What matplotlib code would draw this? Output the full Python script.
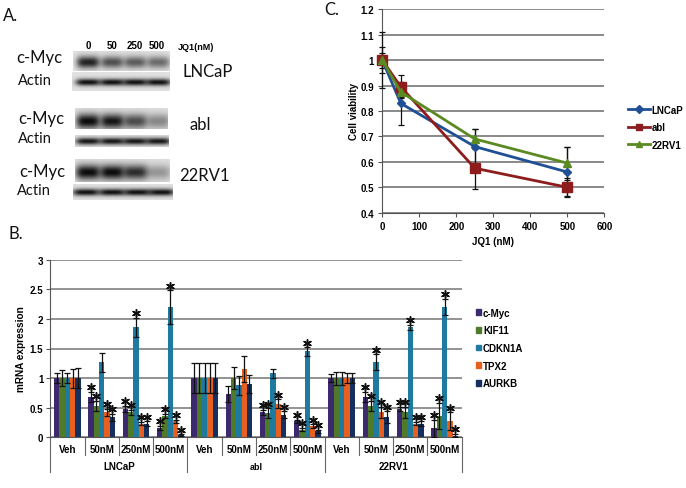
import matplotlib

matplotlib.use('Agg')

import matplotlib.pyplot as plt
import numpy as np
from matplotlib.lines import Line2D
from matplotlib.patches import Patch

W, H = 686, 489

# panel C
doses = [0, 50, 250, 500]
lncap_via = [1, 0.83, 0.66, 0.56]
lncap_err = [0.11, 0.085, 0.07, 0.1]
abl_via = [1, 0.895, 0.575, 0.5]
abl_err = [0.05, 0.045, 0.083, 0.035]
rv1_via = [1, 0.875, 0.69, 0.595]
rv1_err = [0.03, 0.02, 0.04, 0.065]

# panel B
genes = ['c-Myc', 'KIF11', 'CDKN1A', 'TPX2', 'AURKB']
gene_colors = ['#3d2a6e', '#4f7a2a', '#1f7a9f', '#e8601f', '#15305f']
conditions = ['Veh', '50nM', '250nM', '500nM'] * 3
cell_lines = ['LNCaP', 'abl', '22RV1']
cmyc = [1, 0.68, 0.48, 0.16, 1, 0.73, 0.42, 0.27, 1, 0.68, 0.48, 0.15]
kif11 = [1, 0.53, 0.42, 0.36, 1, 1.0, 0.41, 0.13, 1, 0.53, 0.42, 0.36]
cdkn1a = [1, 1.27, 1.86, 2.2, 1, 0.88, 1.08, 1.45, 1, 1.27, 1.86, 2.2]
tpx2 = [1, 0.42, 0.23, 0.27, 1, 1.15, 0.57, 0.19, 1, 0.42, 0.23, 0.27]
aurkb = [1, 0.34, 0.23, 0.04, 1, 0.9, 0.38, 0.1, 1, 0.34, 0.23, 0.03]
cmyc_err = [0.08, 0.09, 0.05, 0.03, 0.25, 0.14, 0.04, 0.02, 0.07, 0.09, 0.04, 0.15]
kif11_err = [0.13, 0.08, 0.04, 0.04, 0.25, 0.18, 0.08, 0.03, 0.11, 0.08, 0.09, 0.22]
cdkn1a_err = [0.09, 0.16, 0.16, 0.28, 0.25, 0.16, 0.08, 0.07, 0.11, 0.13, 0.04, 0.14]
tpx2_err = [0.16, 0.06, 0.03, 0.03, 0.25, 0.22, 0.07, 0.03, 0.08, 0.1, 0.03, 0.15]
aurkb_err = [0.17, 0.06, 0.04, 0.01, 0.25, 0.16, 0.06, 0.03, 0.08, 0.1, 0.04, 0.03]
# which bars carry a star, per condition
cmyc_star = [0, 1, 1, 1, 0, 0, 1, 1, 0, 1, 1, 1]
kif11_star = [0, 1, 1, 1, 0, 0, 1, 1, 0, 1, 1, 1]
cdkn1a_star = [0, 0, 1, 1, 0, 0, 0, 1, 0, 1, 1, 1]
tpx2_star = [0, 1, 1, 1, 0, 0, 1, 1, 0, 1, 1, 1]
aurkb_star = [0, 1, 1, 1, 0, 0, 1, 1, 0, 1, 1, 1]

# panel A, band darkness per lane
lane_labels = ['0', '50', '250', '500']
lncap_myc = [0.9, 0.68, 0.62, 0.55]
lncap_act = [0.98, 0.98, 0.98, 0.98]
abl_myc = [1.0, 0.95, 0.7, 0.42]
abl_act = [0.95, 0.95, 0.95, 0.95]
rv1_myc = [1.0, 1.0, 0.85, 0.35]
rv1_act = [0.98, 0.98, 0.98, 0.98]


def axes_rect(left, right, top, bottom):
    return [left / W, 1 - bottom / H, (right - left) / W, (bottom - top) / H]


def draw_blot(ax, x0, x1, y0, y1, bands, centers, yc, bw, bh, shade=0.88):
    xs = np.arange(x0, x1, 0.5)
    ys = np.arange(y0, y1, 0.5)
    xx, yy = np.meshgrid(xs, ys)
    img = np.full(xx.shape, shade)
    for c, b in zip(centers, bands):
        dark = b * np.exp(-((xx - c) / bw) ** 4) * np.exp(-((yy - yc) / bh) ** 2)
        img = img * (1 - 0.95 * dark)
    ax.imshow(img, cmap='gray', vmin=0, vmax=1, extent=[x0, x1, y1, y0],
              aspect='auto', interpolation='bilinear')


plt.rcParams['font.family'] = ['Liberation Sans', 'DejaVu Sans']
fig = plt.figure(figsize=(W / 100, H / 100), dpi=100)

# ---- panel A and free text, in pixel coords
bg = fig.add_axes([0, 0, 1, 1])
bg.axis('off')

centers = [88, 112, 135, 158]
draw_blot(bg, 73, 170, 52, 72, lncap_myc, centers, 63, 11.5, 6)
draw_blot(bg, 72, 170, 73, 92, lncap_act, centers, 83, 12.5, 3.5)
draw_blot(bg, 75, 168, 109, 130, abl_myc, centers, 122, 12, 7.5)
draw_blot(bg, 75, 169, 136, 148, abl_act, centers, 142, 12.5, 3.5)
draw_blot(bg, 75, 170, 160, 183, rv1_myc, centers, 173, 12.5, 7.5)
draw_blot(bg, 73, 173, 185, 201, rv1_act, [86, 112, 137, 161], 193, 13.5, 3.5)
bg.set_xlim(0, W)
bg.set_ylim(H, 0)

for x, lab in zip([88, 112, 135, 157], lane_labels):
    bg.text(x, 46, lab, fontsize=7, fontweight='bold', ha='center', va='center')
bg.text(196, 47, 'JQ1(nM)', fontsize=6.5, fontweight='bold', ha='center', va='center')

big = {'family': ['Lato', 'DejaVu Sans'], 'va': 'center', 'color': '#111111'}
bg.text(3, 16, 'A.', fontsize=12, **big)
bg.text(9, 234, 'B.', fontsize=12, **big)
bg.text(324, 10, 'C.', fontsize=12, **big)
bg.text(16, 58, 'c-Myc', fontsize=12, **big)
bg.text(18, 81, 'Actin', fontsize=10.5, **big)
bg.text(18, 119, 'c-Myc', fontsize=12, **big)
bg.text(18, 139, 'Actin', fontsize=10.5, **big)
bg.text(19, 172, 'c-Myc', fontsize=12, **big)
bg.text(17, 191, 'Actin', fontsize=10.5, **big)
bg.text(183, 72, 'LNCaP', fontsize=12, **big)
bg.text(189, 125, 'abl', fontsize=12, **big)
bg.text(179, 176, '22RV1', fontsize=12, **big)

# ---- panel C
ax_c = fig.add_axes(axes_rect(382.3, 604.3, 10.3, 213.7))
ax_c.patch.set_alpha(0)
line_styles = [
    ('LNCaP', lncap_via, lncap_err, '#1f4f94', 'D', 4.5),
    ('abl', abl_via, abl_err, '#8e1c1c', 's', 7),
    ('22RV1', rv1_via, rv1_err, '#5b8a22', '^', 6),
]
for name, vals, errs, col, mk, ms in line_styles:
    ax_c.errorbar(doses, vals, yerr=errs, color=col, ecolor='#111111', elinewidth=0.9,
                  capsize=2.2, capthick=0.9, lw=2, marker=mk, ms=ms, label=name,
                  clip_on=False, zorder=3)
ax_c.set_xlim(0, 600)
ax_c.set_ylim(0.4, 1.2)
ax_c.set_yticks(np.arange(0.4, 1.21, 0.1))
ax_c.set_yticklabels(['0.4', '0.5', '0.6', '0.7', '0.8', '0.9', '1', '1.1', '1.2'],
                     fontsize=7, fontweight='bold')
ax_c.set_xticks(range(0, 601, 100))
ax_c.set_xticklabels(range(0, 601, 100), fontsize=7, fontweight='bold')
ax_c.tick_params(length=3, width=0.8, color='#555555', pad=3)
ax_c.grid(axis='y', color='#808080', lw=1.3)
ax_c.set_axisbelow(True)
for s in ['top', 'right']:
    ax_c.spines[s].set_visible(False)
for s in ['left', 'bottom']:
    ax_c.spines[s].set_color('#555555')
ax_c.set_ylabel('Cell viability', fontsize=7, fontweight='bold', labelpad=1)
ax_c.set_xlabel('JQ1 (nM)', fontsize=7, fontweight='bold', labelpad=3.5)
handles, labels = ax_c.get_legend_handles_labels()
handles = [Line2D([], [], color=c, lw=2, marker=m, ms=min(ms, 5)) for _, _, _, c, m, ms in line_styles]
ax_c.legend(handles, labels, loc='center left', bbox_to_anchor=(1.107, 0.42), frameon=False,
            prop={'size': 7, 'weight': 'bold'}, handlelength=2.25, handletextpad=0.15,
            labelspacing=0.78, borderpad=0, borderaxespad=0)

# ---- panel B
ax_b = fig.add_axes(axes_rect(50.3, 461.7, 260.7, 438.3))
ax_b.patch.set_alpha(0)
series = [cmyc, kif11, cdkn1a, tpx2, aurkb]
errors = [cmyc_err, kif11_err, cdkn1a_err, tpx2_err, aurkb_err]
stars = [cmyc_star, kif11_star, cdkn1a_star, tpx2_star, aurkb_star]
ind = np.arange(len(conditions))
bw = 0.155
for i, name in enumerate(genes):
    pos = ind + (i - 2) * bw
    vals = np.array(series[i])
    errs = np.array(errors[i])
    low = np.minimum(errs, vals)
    ax_b.bar(pos, vals, width=bw, color=gene_colors[i], zorder=2, label=name)
    ax_b.errorbar(pos, vals, yerr=[low, errs], fmt='none', ecolor='#111111', elinewidth=0.9,
                  capsize=2.2, capthick=0.9, zorder=3)
    has_star = np.array(stars[i]) == 1
    ax_b.scatter(pos[has_star], (vals + errs)[has_star] + 0.08, marker=(6, 2, 0), s=30,
                 color='#111111', linewidths=1.1, zorder=4, clip_on=False)
ax_b.set_xlim(-0.5, 11.5)
ax_b.set_ylim(0, 3)
ax_b.set_yticks(np.arange(0, 3.1, 0.5))
ax_b.set_yticklabels(['0', '0.5', '1', '1.5', '2', '2.5', '3'], fontsize=7, fontweight='bold')
ax_b.tick_params(axis='y', length=3, width=0.8, color='#555555', pad=2)
ax_b.set_xticks([])
ax_b.grid(axis='y', color='#808080', lw=1.2)
ax_b.set_axisbelow(True)
for s in ['top', 'right']:
    ax_b.spines[s].set_visible(False)
ax_b.spines['left'].set_color('#555555')
ax_b.spines['bottom'].set_color('#555555')
ax_b.set_ylabel('mRNA expression', fontsize=7.2, fontweight='bold', labelpad=3)

# two level category axis
trans = ax_b.get_xaxis_transform()
unit = 1 / (438.3 - 260.7)
for i, lab in enumerate(conditions):
    ax_b.text(i, -11.5 * unit, lab, transform=trans, fontsize=7, fontweight='bold',
              ha='center', va='center')
for i in range(13):
    depth = 35 if i % 4 == 0 else 18
    ax_b.plot([i - 0.5, i - 0.5], [0, -depth * unit], transform=trans, color='#666666',
              lw=0.8, clip_on=False)
for i, name in enumerate(cell_lines):
    ax_b.text(4 * i + 1.5, -29 * unit, name, transform=trans, fontsize=6.5 if name == 'abl' else 7,
              fontweight='bold', ha='center', va='center')

leg_handles = [Patch(color=c) for c in gene_colors]
ax_b.legend(leg_handles, genes, loc='center left', bbox_to_anchor=(1.035, 0.503), frameon=False,
            prop={'size': 7, 'weight': 'bold'}, handlelength=0.5, handleheight=0.55,
            handletextpad=0.2, labelspacing=0.78, borderpad=0, borderaxespad=0)

plt.savefig('out.png', dpi=100)
